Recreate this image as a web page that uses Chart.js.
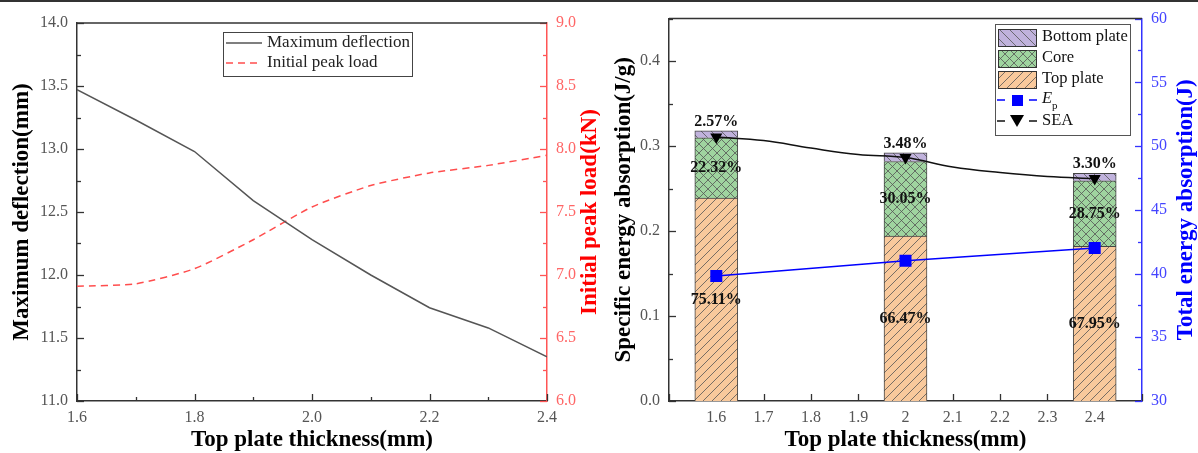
<!DOCTYPE html>
<html>
<head>
<meta charset="utf-8">
<script src="https://cdn.jsdelivr.net/npm/chart.js@4.4.1/dist/chart.umd.min.js"></script>
<style>
body { margin: 0; background: #fff; width: 1198px; height: 453px; overflow: hidden; position: relative; }
#left { position: absolute; left: 0; top: 0; }
#right { position: absolute; left: 600px; top: 0; }
#topline { position: absolute; left: 0; top: 0; width: 1198px; height: 2px; background: #333; }
</style>
</head>
<body>
<canvas id="left" width="600" height="453"></canvas>
<canvas id="right" width="598" height="453"></canvas>
<div id="topline"></div>
<script>

// ---- left chart data ----
var thickness = [1.6, 1.7, 1.8, 1.9, 2.0, 2.1, 2.2, 2.3, 2.4];
var maxDeflection = [13.47, 13.23, 12.98, 12.59, 12.28, 12.00, 11.74, 11.58, 11.35];
var peakLoad = [6.91, 6.93, 7.05, 7.28, 7.54, 7.71, 7.81, 7.87, 7.95];

// ---- right chart data ----
var barThickness = [1.6, 2.0, 2.4];
var topPlate = [0.2388, 0.1941, 0.1821];
var core = [0.0710, 0.0877, 0.0771];
var bottomPlate = [0.0082, 0.0102, 0.0088];
var topPct = ["75.11%", "66.47%", "67.95%"];
var corePct = ["22.32%", "30.05%", "28.75%"];
var bottomPct = ["2.57%", "3.48%", "3.30%"];
var energy = [39.8, 41.0, 42.0];          // E_p (J)
var seaThickness = [1.6, 1.7, 1.8, 1.9, 2.0, 2.1, 2.2, 2.3, 2.4];
var sea = [0.3106, 0.3065, 0.2976, 0.2900, 0.2865, 0.2753, 0.2688, 0.2641, 0.2618];
var seaMarker = [7, 0, 0, 0, 7, 0, 0, 0, 7];

Chart.defaults.font.family = "'Liberation Serif', 'Times New Roman', serif";
Chart.defaults.font.size = 16;
Chart.defaults.animation = false;

var SERIF = "'Liberation Serif', 'Times New Roman', serif";
var TITLE_FONT = "bold 23px " + SERIF;

function xy(xs, ys) {
    var d = [];
    for (var i = 0; i < xs.length; i++) d.push({ x: xs[i], y: ys[i] });
    return d;
}

function fixWidth(w) { return function(scale) { scale.width = w; }; }
function fixHeight(h) { return function(scale) { scale.height = h; }; }

// inward tick marks (major + minor)
function drawTickMarks(chart, id, step, minor, color) {
    var s = chart.scales[id], a = chart.chartArea, ctx = chart.ctx;
    ctx.save();
    ctx.strokeStyle = color;
    ctx.lineWidth = 1.3;
    var n = Math.round((s.max - s.min) / minor);
    for (var i = 0; i <= n; i++) {
        var v = s.min + i * minor;
        var r = v / step;
        var len = Math.abs(r - Math.round(r)) < 1e-6 ? 7 : 4;
        var p = Math.round(s.getPixelForValue(v)) + 0.5;
        ctx.beginPath();
        if (id === 'x') { ctx.moveTo(p, a.bottom); ctx.lineTo(p, a.bottom - len); }
        else if (s.position === 'left') { ctx.moveTo(a.left, p); ctx.lineTo(a.left + len, p); }
        else { ctx.moveTo(a.right, p); ctx.lineTo(a.right - len, p); }
        ctx.stroke();
    }
    ctx.restore();
}

function drawText(ctx, text, x, y, rot, color, font) {
    ctx.save();
    ctx.translate(x, y);
    ctx.rotate(rot);
    ctx.fillStyle = color;
    ctx.font = font;
    ctx.textAlign = 'center';
    ctx.textBaseline = 'middle';
    ctx.fillText(text, 0, 0);
    ctx.restore();
}

function topFrame(chart) {
    var a = chart.chartArea, ctx = chart.ctx;
    ctx.save();
    ctx.strokeStyle = '#333';
    ctx.lineWidth = 1.5;
    ctx.beginPath();
    ctx.moveTo(a.left, a.top);
    ctx.lineTo(a.right, a.top);
    ctx.stroke();
    ctx.restore();
}

function makePattern(ctx, bg, kind, size) {
    var c = document.createElement('canvas');
    c.width = size; c.height = size;
    var g = c.getContext('2d');
    g.fillStyle = bg;
    g.fillRect(0, 0, size, size);
    g.strokeStyle = '#555';
    g.lineWidth = 0.8;
    g.beginPath();
    if (kind === '/' || kind === 'x') {
        g.moveTo(0, size); g.lineTo(size, 0);
        g.moveTo(-1, 1); g.lineTo(1, -1);
        g.moveTo(size - 1, size + 1); g.lineTo(size + 1, size - 1);
    }
    if (kind === '\\' || kind === 'x') {
        g.moveTo(0, 0); g.lineTo(size, size);
        g.moveTo(size - 1, -1); g.lineTo(size + 1, 1);
        g.moveTo(-1, size - 1); g.lineTo(1, size + 1);
    }
    g.stroke();
    return ctx.createPattern(c, 'repeat');
}

// ================= LEFT CHART =================
var leftCtx = document.getElementById('left').getContext('2d');

var leftDecor = {
    id: 'leftDecor',
    beforeDatasetsDraw: function(chart) {
        drawTickMarks(chart, 'x', 0.2, 0.1, '#333');
        drawTickMarks(chart, 'y', 0.5, 0.25, '#333');
        drawTickMarks(chart, 'y1', 0.5, 0.25, '#ff5555');
        topFrame(chart);
    },
    afterDraw: function(chart) {
        var ctx = chart.ctx, a = chart.chartArea;
        var midY = (a.top + a.bottom) / 2;
        drawText(ctx, "Maximum deflection(mm)", 22, midY, -Math.PI / 2, '#000', TITLE_FONT);
        drawText(ctx, "Initial peak load(kN)", 590, midY, -Math.PI / 2, '#ff0000', TITLE_FONT);
        drawText(ctx, "Top plate thickness(mm)", (a.left + a.right) / 2, 440, 0, '#000', TITLE_FONT);

        // legend
        ctx.save();
        ctx.strokeStyle = '#444';
        ctx.lineWidth = 1;
        ctx.strokeRect(223.5, 32.5, 189, 44);
        ctx.font = "17px " + SERIF;
        ctx.textBaseline = 'middle';
        ctx.fillStyle = '#222';
        ctx.strokeStyle = '#555';
        ctx.lineWidth = 1.5;
        ctx.beginPath(); ctx.moveTo(226, 43); ctx.lineTo(262, 43); ctx.stroke();
        ctx.fillText("Maximum deflection", 267, 43);
        ctx.strokeStyle = '#ff4d4d';
        ctx.setLineDash([7, 5]);
        ctx.beginPath(); ctx.moveTo(226, 63); ctx.lineTo(262, 63); ctx.stroke();
        ctx.setLineDash([]);
        ctx.fillText("Initial peak load", 267, 63);
        ctx.restore();
    }
};

new Chart(leftCtx, {
    type: 'line',
    data: {
        datasets: [
            {
                label: "Maximum deflection",
                data: xy(thickness, maxDeflection),
                borderColor: '#555',
                borderWidth: 1.5,
                pointRadius: 0,
                tension: 0,
                yAxisID: 'y'
            },
            {
                label: "Initial peak load",
                data: xy(thickness, peakLoad),
                borderColor: '#ff4d4d',
                borderWidth: 1.5,
                borderDash: [7, 5],
                pointRadius: 0,
                tension: 0.2,
                yAxisID: 'y1'
            }
        ]
    },
    options: {
        responsive: false,
        layout: { padding: { top: 23, left: 0, right: 0, bottom: 0 } },
        plugins: { legend: { display: false }, tooltip: { enabled: false } },
        scales: {
            x: {
                type: 'linear', min: 1.6, max: 2.4,
                afterFit: fixHeight(52),
                grid: { display: false, drawTicks: false },
                border: { color: '#333', width: 1.5 },
                ticks: { stepSize: 0.2, color: '#555', padding: 7, maxRotation: 0,
                    callback: function(v) { return v.toFixed(1); } }
            },
            y: {
                position: 'left', min: 11, max: 14,
                afterFit: fixWidth(77),
                grid: { display: false, drawTicks: false },
                border: { color: '#333', width: 1.5 },
                ticks: { stepSize: 0.5, color: '#555', padding: 9,
                    callback: function(v) { return v.toFixed(1); } }
            },
            y1: {
                position: 'right', min: 6, max: 9,
                afterFit: fixWidth(53),
                grid: { display: false, drawTicks: false },
                border: { color: '#ff5555', width: 1.5 },
                ticks: { stepSize: 0.5, color: '#ff6666', padding: 9,
                    callback: function(v) { return v.toFixed(1); } }
            }
        }
    },
    plugins: [leftDecor]
});

// ================= RIGHT CHART =================
var rightCtx = document.getElementById('right').getContext('2d');

var topPattern = makePattern(rightCtx, '#f9c99c', '/', 9);
var corePattern = makePattern(rightCtx, '#9fd49f', 'x', 9);
var bottomPattern = makePattern(rightCtx, '#c0b2dc', '\\', 10);

var rightDecor = {
    id: 'rightDecor',
    beforeDatasetsDraw: function(chart) {
        drawTickMarks(chart, 'x', 0.1, 0.1, '#333');
        drawTickMarks(chart, 'y', 0.1, 0.05, '#333');
        drawTickMarks(chart, 'y1', 5, 2.5, '#3333ff');
        topFrame(chart);
    },
    afterDatasetsDraw: function(chart) {
        var ctx = chart.ctx;
        ctx.save();
        ctx.font = "bold 16px " + SERIF;
        ctx.fillStyle = '#111';
        ctx.textAlign = 'center';
        var segs = [[0, topPct], [1, corePct]];
        segs.forEach(function(s) {
            chart.getDatasetMeta(s[0]).data.forEach(function(el, i) {
                ctx.textBaseline = 'middle';
                ctx.fillText(s[1][i], el.x, (el.y + el.base) / 2);
            });
        });
        chart.getDatasetMeta(2).data.forEach(function(el, i) {
            ctx.textBaseline = 'bottom';
            ctx.fillText(bottomPct[i], el.x, el.y - 1);
        });
        ctx.restore();
    },
    afterDraw: function(chart) {
        var ctx = chart.ctx, a = chart.chartArea;
        var midY = (a.top + a.bottom) / 2;
        drawText(ctx, "Specific energy absorption(J/g)", 24, midY, -Math.PI / 2, '#000', TITLE_FONT);
        drawText(ctx, "Total energy absorption(J)", 586, midY, -Math.PI / 2, '#0000ff', TITLE_FONT);
        drawText(ctx, "Top plate thickness(mm)", (a.left + a.right) / 2, 440, 0, '#000', TITLE_FONT);

        // legend box
        ctx.save();
        ctx.fillStyle = '#fff';
        ctx.fillRect(395.5, 24.5, 135, 111);
        ctx.strokeStyle = '#555';
        ctx.lineWidth = 1;
        ctx.strokeRect(395.5, 24.5, 135, 111);
        var rows = [
            { y: 37, fill: bottomPattern, text: "Bottom plate" },
            { y: 58, fill: corePattern, text: "Core" },
            { y: 79, fill: topPattern, text: "Top plate" }
        ];
        ctx.font = "16.5px " + SERIF;
        ctx.textBaseline = 'middle';
        rows.forEach(function(r) {
            ctx.fillStyle = r.fill;
            ctx.fillRect(398, r.y - 8, 38, 17);
            ctx.strokeStyle = '#333';
            ctx.strokeRect(398.5, r.y - 7.5, 38, 17);
            ctx.fillStyle = '#111';
            ctx.fillText(r.text, 442, r.y);
        });
        // E_p row
        ctx.strokeStyle = '#0000ff';
        ctx.lineWidth = 1.5;
        ctx.beginPath(); ctx.moveTo(397, 100); ctx.lineTo(405, 100); ctx.moveTo(429, 100); ctx.lineTo(437, 100); ctx.stroke();
        ctx.fillStyle = '#0000ff';
        ctx.fillRect(412, 95, 11, 11);
        ctx.fillStyle = '#111';
        ctx.font = "italic 16.5px " + SERIF;
        ctx.fillText("E", 442, 99);
        ctx.font = "11px " + SERIF;
        ctx.fillText("p", 452, 106);
        // SEA row
        ctx.strokeStyle = '#111';
        ctx.beginPath(); ctx.moveTo(397, 121); ctx.lineTo(405, 121); ctx.moveTo(429, 121); ctx.lineTo(437, 121); ctx.stroke();
        ctx.fillStyle = '#000';
        ctx.beginPath(); ctx.moveTo(410, 115); ctx.lineTo(424, 115); ctx.lineTo(417, 127); ctx.closePath(); ctx.fill();
        ctx.fillStyle = '#111';
        ctx.font = "16.5px " + SERIF;
        ctx.fillText("SEA", 442, 121);
        ctx.restore();
    }
};

new Chart(rightCtx, {
    type: 'bar',
    data: {
        datasets: [
            { label: "Top plate", data: xy(barThickness, topPlate), backgroundColor: topPattern,
              borderColor: '#444', borderWidth: 1, barThickness: 43, stack: 'bars', order: 2 },
            { label: "Core", data: xy(barThickness, core), backgroundColor: corePattern,
              borderColor: '#444', borderWidth: 1, barThickness: 43, stack: 'bars', order: 2 },
            { label: "Bottom plate", data: xy(barThickness, bottomPlate), backgroundColor: bottomPattern,
              borderColor: '#444', borderWidth: 1, barThickness: 43, stack: 'bars', order: 2 },
            { type: 'line', label: "E_p", data: xy(barThickness, energy), yAxisID: 'y1',
              borderColor: '#0000ff', borderWidth: 1.5, backgroundColor: '#0000ff',
              pointStyle: 'rect', pointRadius: 8.5, pointBorderWidth: 0, tension: 0, order: 0 },
            { type: 'line', label: "SEA", data: xy(seaThickness, sea), yAxisID: 'y', stack: 'sea',
              borderColor: '#111', borderWidth: 1.5, backgroundColor: '#000',
              pointStyle: 'triangle', rotation: 180, pointRadius: seaMarker, pointBorderWidth: 0,
              tension: 0.4, order: 1 }
        ]
    },
    options: {
        responsive: false,
        layout: { padding: { top: 18, left: 0, right: 0, bottom: 0 } },
        plugins: { legend: { display: false }, tooltip: { enabled: false } },
        scales: {
            x: {
                type: 'linear', min: 1.5, max: 2.5, offset: false, stacked: true,
                afterFit: fixHeight(52),
                grid: { display: false, drawTicks: false },
                border: { color: '#333', width: 1.5 },
                ticks: { stepSize: 0.1, color: '#555', padding: 7, maxRotation: 0, autoSkip: false,
                    includeBounds: false,
                    callback: function(v) {
                        if (Math.abs(v - 1.5) < 1e-6 || Math.abs(v - 2.5) < 1e-6) return '';
                        return String(Number(v.toFixed(1)));
                    } }
            },
            y: {
                position: 'left', min: 0, max: 0.45, stacked: true,
                afterFit: fixWidth(69),
                grid: { display: false, drawTicks: false },
                border: { color: '#333', width: 1.5 },
                ticks: { stepSize: 0.1, color: '#555', padding: 9, includeBounds: false,
                    callback: function(v) { return v.toFixed(1); } }
            },
            y1: {
                position: 'right', min: 30, max: 60,
                afterFit: fixWidth(56),
                grid: { display: false, drawTicks: false },
                border: { color: '#3333ff', width: 1.5 },
                ticks: { stepSize: 5, color: '#4444ff', padding: 9 }
            }
        }
    },
    plugins: [rightDecor]
});
</script>
</body>
</html>
